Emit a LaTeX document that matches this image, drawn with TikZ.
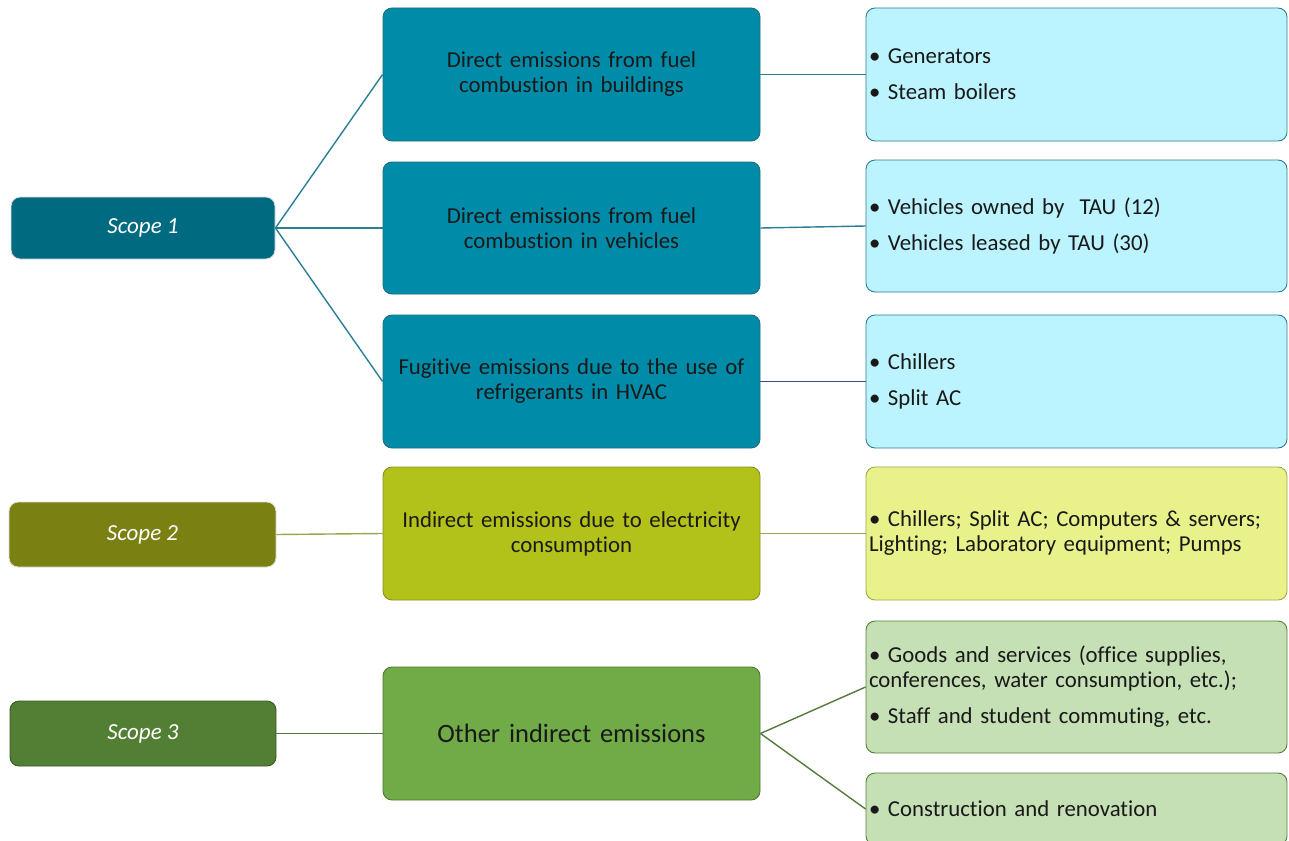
\documentclass[tikz,border=0pt]{standalone}
\usepackage{fontspec}
\setmainfont{Carlito}[Ligatures=NoCommon]
\definecolor{sAfill}{HTML}{006A80}
\definecolor{mAfill}{HTML}{008BA8}
\definecolor{mAdraw}{HTML}{1F6E80}
\definecolor{rAfill}{HTML}{BBF3FF}
\definecolor{rAdraw}{HTML}{2F7F93}
\definecolor{cA}{HTML}{2B7F95}
\definecolor{cAn}{HTML}{3A4E80}
\definecolor{sBfill}{HTML}{7A8012}
\definecolor{mBfill}{HTML}{B3C21A}
\definecolor{mBdraw}{HTML}{8A9020}
\definecolor{rBfill}{HTML}{E9F18A}
\definecolor{rBdraw}{HTML}{A0AA40}
\definecolor{cB}{HTML}{9AA84A}
\definecolor{sCfill}{HTML}{527F33}
\definecolor{mCfill}{HTML}{70AB47}
\definecolor{mCdraw}{HTML}{4B7A30}
\definecolor{rCfill}{HTML}{C6E0B5}
\definecolor{rCdraw}{HTML}{557F3A}
\definecolor{cC}{HTML}{557A3C}
\tikzset{
  basebox/.style={rectangle, rounded corners=9pt, line width=0.9pt, inner sep=0pt},
  scopebox/.style={basebox, minimum width=265pt, minimum height=64pt, text=white,
    font=\fontsize{23}{26}\selectfont\itshape},
  midbox/.style={basebox, minimum width=377pt, minimum height=133pt, text width=370pt,
    align=center, text=black!90, font=\fontsize{22.8}{25}\selectfont},
  rightbox/.style={basebox, minimum width=421pt, text width=415pt, inner xsep=3pt,
    align=left, text=black!90, font=\fontsize{22.8}{25}\selectfont},
  conn/.style={line width=1.4pt},
}
\begin{document}
\begin{tikzpicture}[x=1pt,y=-1pt]
\clip (0,0) rectangle (1289,840);
\fill[white] (0,0) rectangle (1289,840);
% scope boxes
\node[scopebox, fill=sAfill, draw=black!12, minimum width=264pt, minimum height=62pt] (s1) at (143,228) {Scope 1};
\node[scopebox, fill=sBfill, draw=black!12, minimum width=267pt, minimum height=65pt] (s2) at (142.5,534.5) {Scope 2};
\node[scopebox, fill=sCfill, draw=sCfill!70!black, minimum width=266pt, minimum height=65pt] (s3) at (143,733.5) {Scope 3};
% middle boxes
\node[midbox, fill=mAfill, draw=mAdraw] (m1) at (571.5,74.5) {Direct emissions from fuel\\combustion in buildings};
\node[midbox, fill=mAfill, draw=mAdraw, minimum height=132pt] (m2) at (571.5,228) {Direct emissions from fuel\\combustion in vehicles};
\node[midbox, fill=mAfill, draw=mAdraw] (m3) at (571.5,381.5) {Fugitive emissions due to the use of\\refrigerants in HVAC};
\node[midbox, fill=mBfill, draw=mBdraw] (m4) at (571.5,533.5) {Indirect emissions due to electricity\\consumption};
\node[midbox, fill=mCfill, draw=mCdraw, font=\fontsize{26.5}{30}\selectfont] (m5) at (571.5,733.5) {Other indirect emissions};
% right boxes
\node[rightbox, fill=rAfill, draw=rAdraw, minimum height=133pt] (r1) at (1076.5,74.5) {• Generators\\[11pt]• Steam boilers};
\node[rightbox, fill=rAfill, draw=rAdraw, minimum height=132pt] (r2) at (1076.5,226) {• Vehicles owned by~ TAU (12)\\[11pt]• Vehicles leased by TAU (30)};
\node[rightbox, fill=rAfill, draw=rAdraw, minimum height=133pt] (r3) at (1076.5,381.5) {• Chillers\\[11pt]• Split AC};
\node[rightbox, fill=rBfill, draw=rBdraw, minimum height=133pt] (r4) at (1076.5,533.5) {• Chillers; Split AC; Computers \& servers;\\Lighting; Laboratory equipment; Pumps};
\node[rightbox, fill=rCfill, draw=rCdraw, minimum height=132pt] (r5) at (1076.5,687) {• Goods and services (office supplies,\\conferences, water consumption, etc.);\\[11pt]• Staff and student commuting, etc.};
\node[rightbox, fill=rCfill, draw=rCdraw, minimum height=72pt] (r6) at (1076.5,809) {• Construction and renovation};
% connectors
\draw[conn, cA] (s1.east) -- (m1.west);
\draw[conn, cA] (s1.east) -- (m2.west);
\draw[conn, cA] (s1.east) -- (m3.west);
\draw[conn, cA] (m1.east) -- (r1.west);
\draw[conn, cA] (m2.east) -- (r2.west);
\draw[conn, cAn] (m3.east) -- (r3.west);
\draw[conn, cB] (s2.east) -- (m4.west);
\draw[conn, cB] (m4.east) -- (r4.west);
\draw[conn, cC] (s3.east) -- (m5.west);
\draw[conn, cC] (m5.east) -- (r5.west);
\draw[conn, cC] (m5.east) -- (r6.west);
\end{tikzpicture}
\end{document}
